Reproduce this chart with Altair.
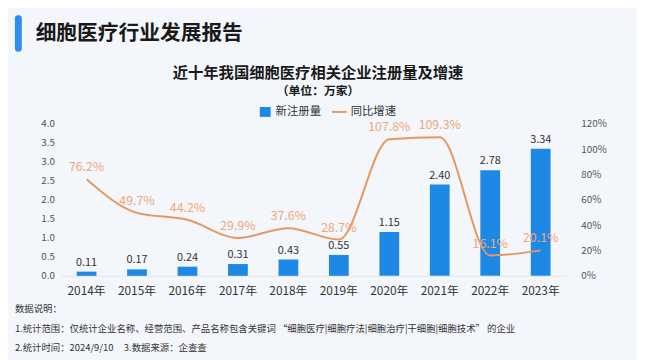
import altair as alt
import pandas as pd

years = ["2014年", "2015年", "2016年", "2017年", "2018年", "2019年", "2020年", "2021年", "2022年", "2023年"]
counts = [0.11, 0.17, 0.24, 0.31, 0.43, 0.55, 1.15, 2.40, 2.78, 3.34]
rates = [76.2, 49.7, 44.2, 29.9, 37.6, 28.7, 107.8, 109.3, 16.1, 20.1]
left_ticks = [0, 0.5, 1, 1.5, 2, 2.5, 3, 3.5, 4]
right_ticks = [0, 20, 40, 60, 80, 100, 120]

heading = "细胞医疗行业发展报告"
title = "近十年我国细胞医疗相关企业注册量及增速"
subtitle = "（单位：万家）"
legend_bar = "新注册量"
legend_line = "同比增速"
notes = [
    "数据说明：",
    "1.统计范围：仅统计企业名称、经营范围、产品名称包含关键词 “细胞医疗|细胞疗法|细胞治疗|干细胞|细胞技术” 的企业",
    "2.统计时间：2024/9/10\u00a0\u00a0\u00a0\u00a0\u00a03.数据来源：企查查",
]

FONT = "Noto Sans CJK SC"
BLUE = "#1E88E5"
ORANGE = "#E8975E"
ORANGE_LBL = "#F0A878"

df = pd.DataFrame({"year": years, "count": counts, "rate": rates})

# plot-area origin is at page (62, 123)
X0, Y0 = 62, 123

x_axis = alt.Axis(labelAngle=0, labelFontSize=12, labelColor="#333333",
                  labelFont=FONT, ticks=False, domain=True, domainColor="#E3E6EB",
                  labelPadding=10, labelOverlap=False)
left_axis = alt.Axis(values=left_ticks, format=".1f", grid=False, ticks=False,
                     domain=False, labelFontSize=10, labelColor="#555555",
                     labelFont=FONT, labelPadding=7, labelOverlap=False,
                     labelFlush=False)
right_axis = alt.Axis(orient="right", values=right_ticks,
                      labelExpr="datum.value + '%'", grid=False, ticks=False,
                      domain=False, labelFontSize=10, labelColor="#555555",
                      labelFont=FONT, labelPadding=15, labelOverlap=False,
                      labelFlush=False)
x_scale = alt.Scale(paddingInner=0.6, paddingOuter=0.3)
left_scale = alt.Scale(domain=[0, 4])
right_scale = alt.Scale(domain=[0, 120])

base = alt.Chart(df)

bars = base.mark_bar(color=BLUE, size=20).encode(
    x=alt.X("year:N", sort=years, title=None, scale=x_scale, axis=x_axis),
    y=alt.Y("count:Q", title=None, scale=left_scale, axis=left_axis),
)
bar_lbl = base.mark_text(baseline="bottom", dy=-4, fontSize=11, color="#333333", font=FONT).encode(
    x=alt.X("year:N", sort=years, title=None, scale=x_scale, axis=x_axis),
    y=alt.Y("count:Q", title=None, scale=left_scale, axis=left_axis),
    text=alt.Text("count:Q", format=".2f"),
)
left = alt.layer(bars, bar_lbl)

line = base.mark_line(color=ORANGE, strokeWidth=2, interpolate="monotone").encode(
    x=alt.X("year:N", sort=years, title=None, scale=x_scale, axis=x_axis),
    y=alt.Y("rate:Q", title=None, scale=right_scale, axis=right_axis),
)
line_lbl = base.transform_calculate(
    lbl="format(datum.rate, '.1f') + '%'"
).mark_text(baseline="bottom", dy=-5, fontSize=12.5, color=ORANGE_LBL, font=FONT).encode(
    x=alt.X("year:N", sort=years, title=None, scale=x_scale, axis=x_axis),
    y=alt.Y("rate:Q", title=None, scale=right_scale, axis=right_axis),
    text="lbl:N",
)
right = alt.layer(line, line_lbl)

one = pd.DataFrame({"k": [0]})


def txt(s, px, py, size, weight="normal", color="#222222", align="left"):
    return alt.Chart(one).mark_text(
        text=s, fontSize=size, fontWeight=weight, color=color, font=FONT,
        align=align, baseline="middle"
    ).encode(x=alt.value(px - X0), y=alt.value(py - Y0))


accent = alt.Chart(one).mark_rect(color="#2F8CF0", cornerRadius=3).encode(
    x=alt.value(15 - X0), x2=alt.value(22 - X0), y=alt.value(13 - Y0), y2=alt.value(50 - Y0)
)
leg_sq = alt.Chart(one).mark_rect(color=BLUE).encode(
    x=alt.value(263 - X0), x2=alt.value(274 - X0), y=alt.value(106 - Y0), y2=alt.value(116 - Y0)
)
leg_ln = alt.Chart(one).mark_rule(color=ORANGE, strokeWidth=2).encode(
    x=alt.value(336 - X0), x2=alt.value(351 - X0), y=alt.value(111 - Y0)
)

annots = [
    accent,
    txt(heading, 36, 32, 21, "bold", "#1a1a1a"),
    txt(title, 322, 72, 15.5, "bold", "#1a1a1a", "center"),
    txt(subtitle, 322, 90, 12, "bold", "#1a1a1a", "center"),
    leg_sq,
    txt(legend_bar, 279, 111, 11.5, "normal", "#333333"),
    leg_ln,
    txt(legend_line, 355, 111, 11.5, "normal", "#333333"),
    txt(notes[0], 15, 311, 9.5, "normal", "#333333"),
    txt(notes[1], 15, 331, 9.5, "normal", "#333333"),
    txt(notes[2], 15, 350, 9.5, "normal", "#333333"),
]

chart = alt.layer(left, right, *annots).resolve_scale(y="independent").properties(
    width=511, height=154,
    autosize=alt.AutoSizeParams(type="none"),
    padding={"left": 54, "top": 115, "right": 72, "bottom": 83},
    background="#F3F6FB",
).configure_view(stroke=None).configure_axis(labelOverlap=False)

chart.save("out.html", embed_options={"renderer": "svg", "actions": False})
